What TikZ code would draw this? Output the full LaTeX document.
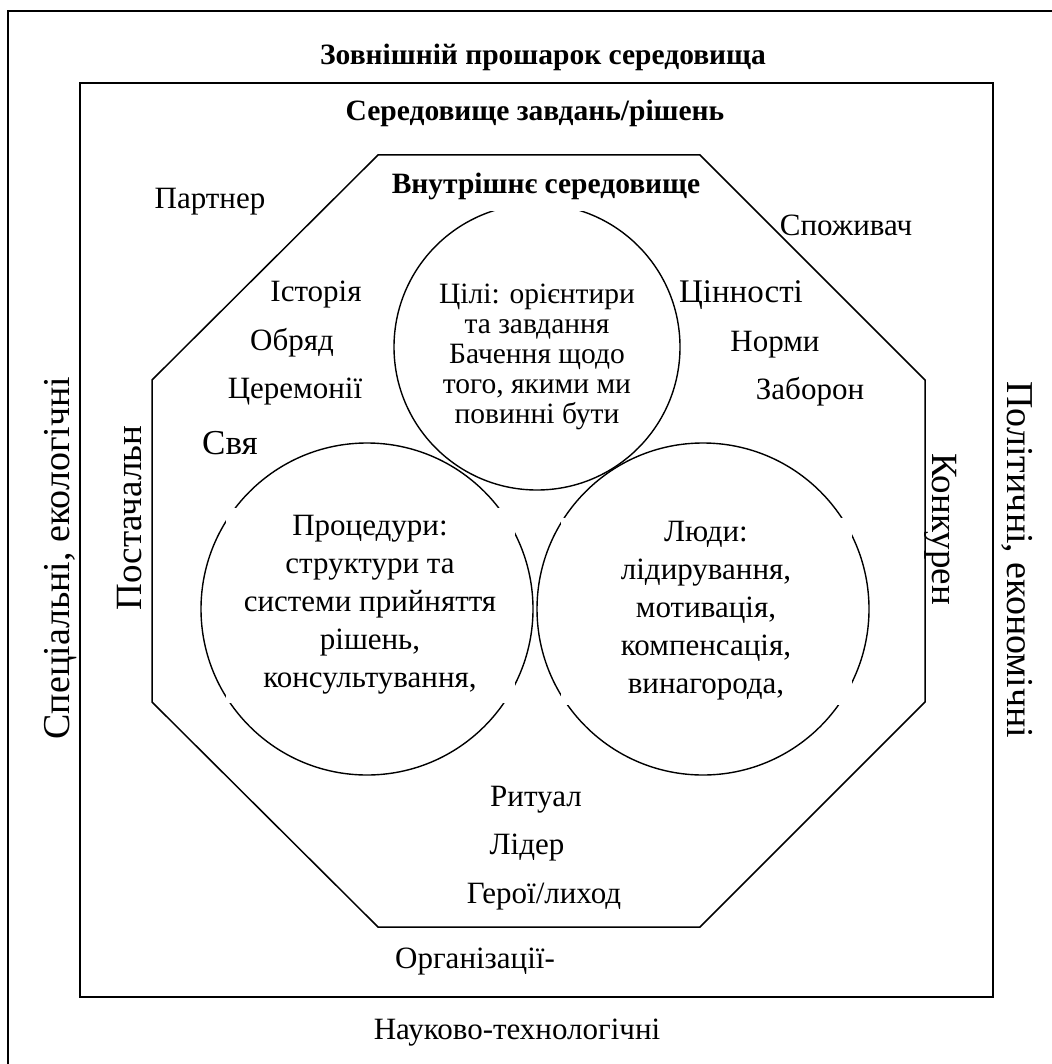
\documentclass[tikz,border=0pt]{standalone}
\usepackage{fontspec}
\setmainfont{Liberation Serif}
\usepackage{tikz}

\begin{document}
\begin{tikzpicture}[x=1pt,y=-1pt,
    frame/.style={line width=2pt},
    ring/.style={circle, draw, line width=1.4pt, inner sep=0pt},
    title/.style={font=\fontsize{29.5}{33}\selectfont\bfseries},
    item/.style={font=\fontsize{31}{35}\selectfont},
    big/.style={font=\fontsize{33}{38}\selectfont},
    edge/.style={font=\fontsize{37}{42}\selectfont},
    side/.style={font=\fontsize{38}{43}\selectfont},
    core/.style={fill=white, align=center, inner sep=0pt}]
  \useasboundingbox (0,0) rectangle (1051,1064);
  % outer layer
  \draw[frame] (8,1070) -- (8,11) -- (1060,11);
  \node[title] (outer) at (543,57) {Зовнішній прошарок середовища};
  \node[side, rotate=90] (social) at (61,558) {Спеціальні, екологічні};
  \node[side, rotate=-90] (politic) at (1017,560) {Політичні, економічні};
  \node[item] (science) at (517,1033) {Науково-технологічні};
  % task environment
  \draw[frame] (80,83) rectangle (993,997);
  \node[title] (task) at (535,113) {Середовище завдань/рішень};
  \node[item] (partner) at (210,202) {Партнер};
  \node[item] (consumer) at (846,225) {Споживач};
  \node[edge, rotate=90] (supplier) at (130,518) {Постачальн};
  \node[edge, rotate=-90] (rival) at (941,529) {Конкурен};
  \node[item] (orgs) at (475,962) {Організації-};
  % inner environment
  \draw[line width=1.5pt] (378,155) -- (700,155) -- (925,380) -- (925,702)
    -- (700,927) -- (378,927) -- (152,702) -- (152,380) -- cycle;
  \node[ring, minimum size=286pt] (goals) at (537,347) {};
  \node[ring, minimum size=332pt] (procs) at (367,609) {};
  \node[ring, minimum size=332pt] (people) at (703,609) {};
  \node[title, fill=white, minimum height=50pt, inner sep=2pt] (inner) at (546,186) {Внутрішнє середовище};
  % circle texts
  \node[font=\fontsize{29.5}{30}\selectfont, align=center] (goalstext) at (goals.center) [yshift=-10pt]
    {Цілі: орієнтири\\та завдання\\Бачення щодо\\того, якими ми\\повинні бути};
  \node[core, font=\fontsize{31}{38}\selectfont, minimum width=289pt, minimum height=195pt]
    (procstext) at (370,605) {Процедури:\\структури та\\системи прийняття\\рішень,\\консультування,};
  \node[core, font=\fontsize{31}{38}\selectfont, minimum width=291pt, minimum height=187pt]
    (peopletext) at (706,611) {Люди:\\лідирування,\\мотивація,\\компенсація,\\винагорода,};
  % culture items
  \node[item] (history) at (316,295) {Історія};
  \node[item] (rite) at (292,343) {Обряд};
  \node[item] (ceremony) at (295,392) {Церемонії};
  \node[big, font=\fontsize{35}{40}\selectfont] (feast) at (230,443) {Свя};
  \node[big] (values) at (741,295) {Цінності};
  \node[item] (norms) at (775,345) {Норми};
  \node[item] (bans) at (810,392) {Заборон};
  \node[item] (ritual) at (536,800) {Ритуал};
  \node[item] (leader) at (527,848) {Лідер};
  \node[item] (heroes) at (544,897) {Герої/лиход};
\end{tikzpicture}
\end{document}
